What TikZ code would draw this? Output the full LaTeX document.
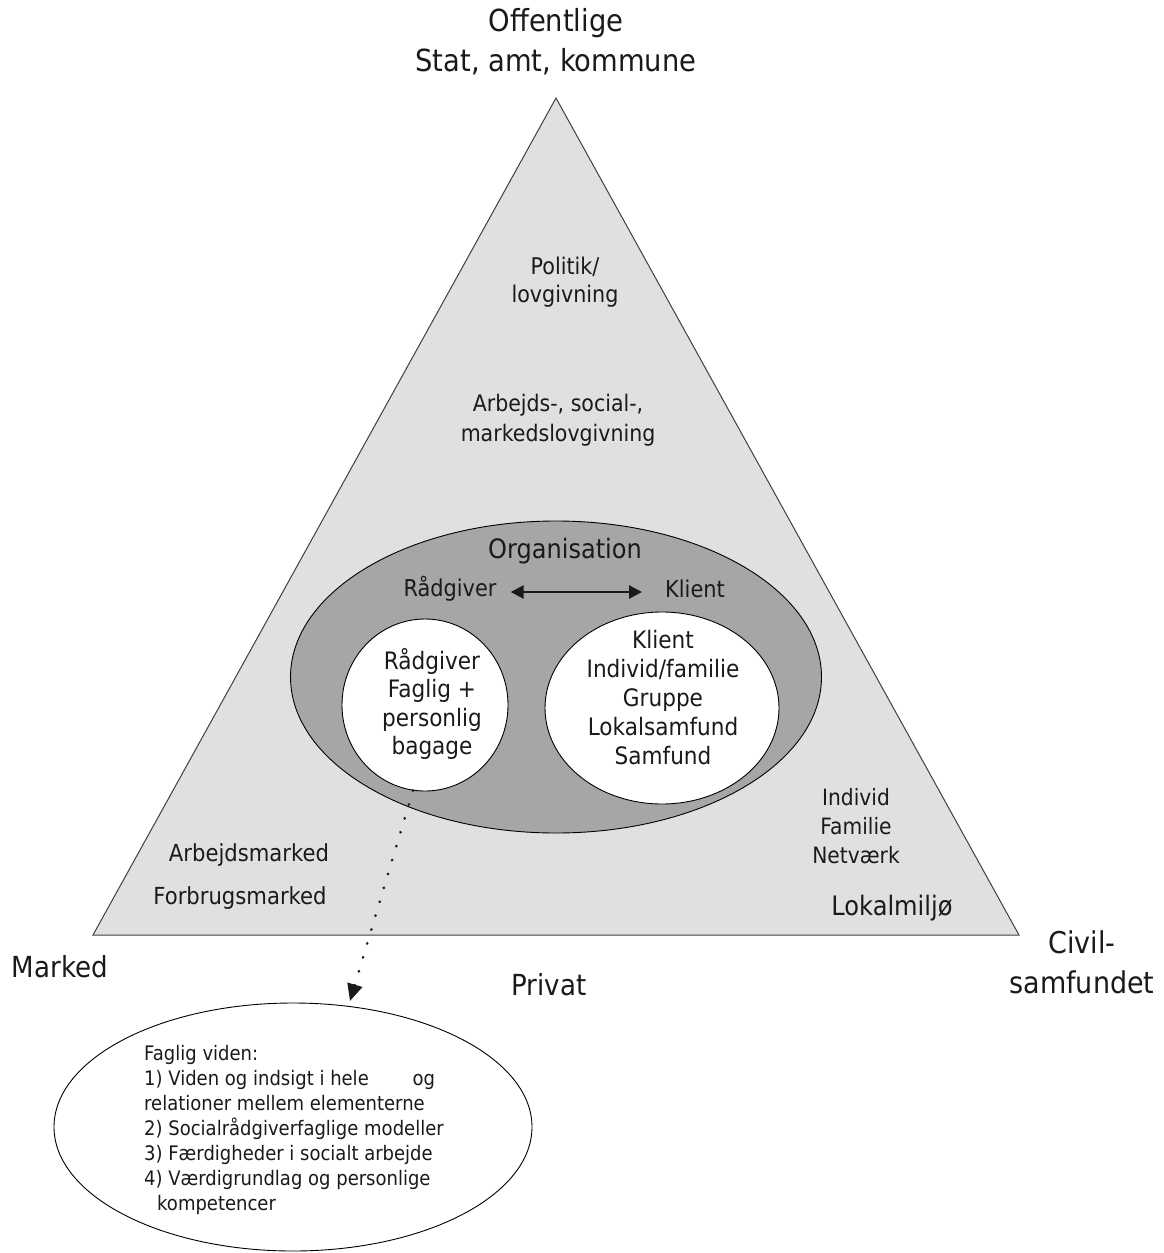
\documentclass[tikz,border=0pt]{standalone}
\usepackage{fontspec}
\setmainfont{DejaVu Sans}[FakeStretch=0.9]
\usetikzlibrary{arrows.meta,shapes.geometric}
\definecolor{trifill}{RGB}{224,224,224}
\definecolor{orgfill}{RGB}{166,166,166}
\definecolor{ink}{RGB}{26,26,26}
\newcommand{\fsz}[2]{\fontsize{#1}{#2}\selectfont}
\begin{document}
\begin{tikzpicture}[x=1pt,y=-1pt,
  lbl/.style={text=ink, inner sep=0pt, align=center},
  ell/.style={ellipse, draw=black, line width=0.9pt, inner sep=0pt},
  triside/.style={draw=black!75, line width=1pt, fill=trifill},
  dblarrow/.style={{Triangle[length=13pt,width=13pt]}-{Triangle[length=13pt,width=13pt]}, line width=2.6pt, draw=ink},
  dotline/.style={line width=3pt, draw=ink, dash pattern=on 0.01pt off 14.5pt, line cap=round, -{Triangle[length=17pt,width=15pt]}}
]
\useasboundingbox (0,0) rectangle (1164,1253);
% triangle
\coordinate (apex) at (556,98);
\coordinate (bl) at (93,935);
\coordinate (br) at (1019,935);
\draw[triside] (apex) -- (bl) -- (br) -- cycle;

% organisation ellipse
\node[ell, fill=orgfill, minimum width=531pt, minimum height=312pt] (org) at (556,677) {};
\node[ell, fill=white, minimum width=166pt, minimum height=172pt] (rad) at (425,705) {};
\node[ell, fill=white, minimum width=234pt, minimum height=192pt] (kli) at (662,708) {};

% top labels
\node[lbl, font=\fsz{30.4}{40}] (off) at (556,42) {Offentlige\\Stat, amt, kommune};
\node[lbl, font=\fsz{23}{28}] (pol) at (565,282) {Politik/\\lovgivning};
\node[lbl, font=\fsz{22.8}{30}] (arb) at (558,420) {Arbejds-, social-,\\markedslovgivning};

% organisation content
\node[lbl, font=\fsz{26.7}{30}] (orgt) at (565,551) {Organisation};
\node[lbl, font=\fsz{23.2}{28}] (rl) at (450,589) {Rådgiver};
\node[lbl, font=\fsz{23.2}{28}] (kl) at (695,589) {Klient};
\draw[dblarrow] ([xshift=14pt,yshift=-3pt]rl.east) -- ([xshift=-23pt,yshift=-3pt]kl.west);
\node[lbl, font=\fsz{24}{28.5}] (radt) at (432,704) {Rådgiver\\Faglig +\\personlig\\bagage};
\node[lbl, font=\fsz{24}{29}] (klit) at (663,698) {Klient\\Individ/familie\\Gruppe\\Lokalsamfund\\Samfund};

% lower labels
\node[lbl, font=\fsz{22.5}{29}] (ind) at (856,826) {Individ\\Familie\\Netværk};
\node[lbl, font=\fsz{26.8}{30}] (lok) at (892,908) {Lokalmiljø};
\node[lbl, font=\fsz{23.5}{30}] (am) at (249,855) {Arbejdsmarked};
\node[lbl, font=\fsz{23.5}{30}] (fm) at (240,898) {Forbrugsmarked};
\node[lbl, font=\fsz{29}{40}] (mk) at (60,967) {Marked};
\node[lbl, font=\fsz{29}{40}] (pr) at (549,985) {Privat};
\node[lbl, font=\fsz{30}{40}] (civ) at (1082,962) {Civil-\\samfundet};

% bottom ellipse
\node[ell, fill=white, minimum width=478pt, minimum height=248pt] (fag) at (293,1127) {};
\node[lbl, align=left, anchor=north west, font=\fsz{20}{25}] (fagt) at (144,1045) {Faglig viden:\\1) Viden og indsigt i hele\hspace*{38pt} og\\relationer mellem elementerne\\2) Socialrådgiverfaglige modeller\\3) Færdigheder i socialt arbejde\\4) Værdigrundlag og personlige\\\hspace*{13pt}kompetencer};

% dotted connector
\coordinate (tip) at (350,1001);
\draw[dotline] (rad.-98) -- (tip);
\end{tikzpicture}
\end{document}
